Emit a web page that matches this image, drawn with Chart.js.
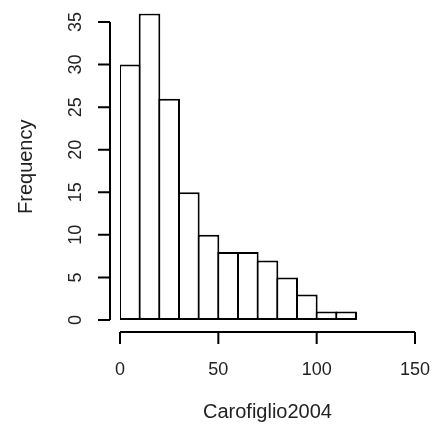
<!DOCTYPE html>
<html>
<head>
<meta charset="utf-8">
<script src="https://cdn.jsdelivr.net/npm/chart.js@4"></script>
<style>
  html, body { margin: 0; padding: 0; background: #fff; }
  canvas { display: block; }
</style>
</head>
<body>
<canvas id="hist" width="434" height="431"></canvas>
<script>
// histogram data (bins of width 10)
const binStarts = [0, 10, 20, 30, 40, 50, 60, 70, 80, 90, 100, 110];
const binWidth = 10;
const counts = [30, 36, 26, 15, 10, 8, 8, 7, 5, 3, 1, 1];
const xTicks = [0, 50, 100, 150];
const yTicks = [0, 5, 10, 15, 20, 25, 30, 35];
const xTitle = 'Carofiglio2004';
const yTitle = 'Frequency';

const points = binStarts.map((b, i) => ({ x: b + binWidth / 2, y: counts[i] }));

// R style detached axes, drawn from the chart's own scales
const rAxes = {
    id: 'rAxes',
    afterDraw(chart) {
        const ctx = chart.ctx;
        const xs = chart.scales.x;
        const ys = chart.scales.y;
        const axX = 110, axY = 332, tick = 12;
        ctx.save();
        ctx.strokeStyle = '#000';
        ctx.lineWidth = 2;
        ctx.fillStyle = '#222';
        ctx.font = '18px "Liberation Sans", Arial, sans-serif';

        // y axis
        ctx.beginPath();
        ctx.moveTo(axX, ys.getPixelForValue(yTicks[0]));
        ctx.lineTo(axX, ys.getPixelForValue(yTicks[yTicks.length - 1]));
        yTicks.forEach(v => {
            const py = ys.getPixelForValue(v);
            ctx.moveTo(axX, py);
            ctx.lineTo(axX - tick, py);
        });
        ctx.stroke();
        ctx.textAlign = 'center';
        ctx.textBaseline = 'middle';
        yTicks.forEach(v => {
            ctx.save();
            ctx.translate(76, ys.getPixelForValue(v));
            ctx.rotate(-Math.PI / 2);
            ctx.fillText(String(v), 0, 0);
            ctx.restore();
        });

        // x axis
        ctx.beginPath();
        ctx.moveTo(xs.getPixelForValue(xTicks[0]), axY);
        ctx.lineTo(xs.getPixelForValue(xTicks[xTicks.length - 1]), axY);
        xTicks.forEach(v => {
            const px = xs.getPixelForValue(v);
            ctx.moveTo(px, axY);
            ctx.lineTo(px, axY + tick);
        });
        ctx.stroke();
        xTicks.forEach(v => {
            ctx.fillText(String(v), xs.getPixelForValue(v), 370);
        });

        // titles
        ctx.font = '20px "Liberation Sans", Arial, sans-serif';
        ctx.fillText(xTitle, (xs.left + xs.right) / 2, 412);
        ctx.save();
        ctx.translate(26, (ys.top + ys.bottom) / 2);
        ctx.rotate(-Math.PI / 2);
        ctx.fillText(yTitle, 0, 0);
        ctx.restore();
        ctx.restore();
    }
};

new Chart(document.getElementById('hist'), {
    type: 'bar',
    data: {
        datasets: [{
            data: points,
            backgroundColor: '#fff',
            borderColor: '#000',
            borderWidth: 2,
            borderSkipped: false,
            categoryPercentage: 1,
            barPercentage: 1.1
        }]
    },
    options: {
        responsive: false,
        animation: false,
        events: [],
        layout: { padding: { left: 120, right: 19, top: 13.5, bottom: 111 } },
        plugins: { legend: { display: false }, tooltip: { enabled: false } },
        scales: {
            x: { type: 'linear', min: 0, max: 150, offset: false, display: false },
            y: { min: 0, max: 36, display: false }
        }
    },
    plugins: [rAxes]
});
</script>
</body>
</html>
